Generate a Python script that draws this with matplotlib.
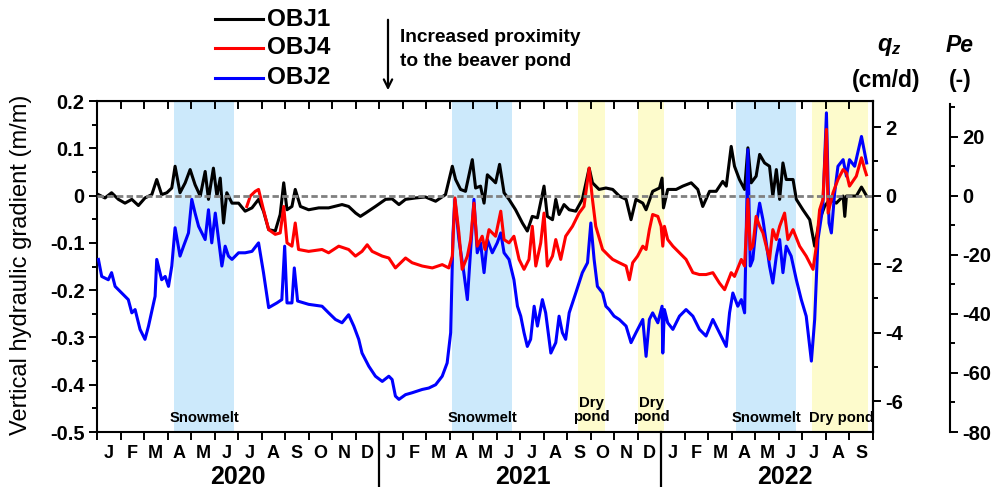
import matplotlib.pyplot as plt
import matplotlib.transforms as mtransforms
from matplotlib.lines import Line2D
from matplotlib.ticker import MultipleLocator, FixedLocator, FixedFormatter, NullFormatter, FuncFormatter
import numpy as np

plt.rcParams['font.family'] = ['Liberation Sans', 'DejaVu Sans']
plt.rcParams['font.weight'] = 'bold'
plt.rcParams['axes.unicode_minus'] = False
plt.rcParams['mathtext.fontset'] = 'custom'
plt.rcParams['mathtext.it'] = 'Liberation Sans:italic:bold'
plt.rcParams['mathtext.rm'] = 'Liberation Sans:bold'

# time = months since 1 Jan 2020, values = vertical hydraulic gradient (m/m)
obj1_t = [0.06, 0.34, 0.62, 0.91, 1.19, 1.48, 1.76, 2.04, 2.33, 2.54, 2.75, 2.97, 3.18, 3.32, 3.53, 3.75,
          3.96, 4.17, 4.39, 4.6, 4.74, 4.95, 5.1, 5.24, 5.38, 5.52, 5.74, 6.02, 6.3, 6.59, 6.87, 7.08,
          7.3, 7.58, 7.79, 7.94, 8.08, 8.29, 8.43, 8.65, 9.0, 9.43, 9.85, 10.42, 10.7, 11.0, 11.2, 11.42,
          11.84, 12.27, 12.55, 12.84, 13.12, 13.55, 13.97, 14.4, 14.82, 15.11, 15.25, 15.46, 15.67, 15.96,
          16.1, 16.31, 16.46, 16.6, 16.81, 16.95, 17.12, 17.31, 17.52, 17.8, 18.09, 18.3, 18.51, 18.73,
          19.01, 19.15, 19.37, 19.51, 19.65, 19.86, 20.08, 20.36, 20.64, 20.93, 21.07, 21.35, 21.64, 21.93,
          22.21, 22.5, 22.71, 22.92, 23.21, 23.35, 23.63, 23.92, 24.03, 24.09, 24.27, 24.63, 24.91, 25.27,
          25.55, 25.76, 26.05, 26.33, 26.61, 26.76, 26.97, 27.11, 27.32, 27.54, 27.68, 27.82, 28.03, 28.18,
          28.39, 28.6, 28.74, 28.89, 29.03, 29.17, 29.31, 29.6, 29.74, 30.02, 30.31, 30.52, 30.73, 30.94,
          31.16, 31.44, 31.73, 31.8, 31.87, 32.29, 32.51, 32.73]
obj1_v = [0.002, -0.005, 0.006, -0.008, -0.016, -0.008, -0.021, -0.005, 0.002, 0.034, 0.002, 0.006, 0.016, 0.062, 0.006, 0.027,
          0.055, 0.023, -0.001, 0.051, -0.008, 0.058, -0.001, 0.037, -0.058, 0.006, -0.016, -0.016, -0.033, -0.026, -0.008, -0.033,
          -0.072, -0.075, -0.04, 0.027, -0.03, -0.023, 0.013, -0.023, -0.03, -0.026, -0.026, -0.019, -0.023, -0.037, -0.044, -0.037,
          -0.023, -0.008, -0.007, -0.019, -0.008, -0.005, -0.003, -0.012, 0.002, 0.062, 0.034, 0.013, 0.009, 0.076,
          0.016, 0.02, -0.016, 0.044, 0.034, 0.027, 0.066, 0.006, -0.008, -0.03, -0.058, -0.075, -0.044, -0.047,
          0.02, -0.044, -0.051, -0.008, -0.04, -0.019, -0.03, -0.033, -0.008, 0.058, 0.027, 0.013, 0.016, 0.013,
          -0.001, -0.008, -0.051, -0.008, -0.016, -0.03, 0.009, 0.016, 0.037, -0.026, 0.013, 0.013, 0.02, 0.027,
          0.013, -0.023, 0.009, 0.009, 0.03, 0.02, 0.104, 0.062, 0.034, 0.013, 0.101, 0.027, 0.041, 0.087,
          0.069, 0.062, -0.001, 0.055, -0.008, 0.069, 0.034, 0.034, -0.008, -0.03, -0.051, -0.107, -0.051, -0.023,
          -0.008, -0.016, -0.001, -0.044, -0.001, -0.001, 0.018, -0.001]

obj4_t = [6.37, 6.52, 6.73, 6.87, 7.08, 7.3, 7.58, 7.79, 7.94, 8.08, 8.29, 8.43, 8.57, 9.0, 9.57, 9.85,
          10.28, 10.7, 10.99, 11.27, 11.49, 11.7, 12.13, 12.41, 12.69, 13.12, 13.4, 13.83, 14.26, 14.68, 14.96, 15.11,
          15.22, 15.39, 15.53, 15.75, 15.89, 16.03, 16.17, 16.38, 16.5, 16.67, 16.95, 17.17, 17.31, 17.52, 17.73, 17.95,
          18.16, 18.37, 18.51, 18.66, 18.87, 19.01, 19.15, 19.37, 19.51, 19.72, 19.93, 20.22, 20.5, 20.71, 20.93, 21.07,
          21.21, 21.5, 21.78, 21.93, 22.21, 22.5, 22.64, 22.78, 22.99, 23.21, 23.35, 23.49, 23.63, 23.85, 23.99, 24.06,
          24.13, 24.27, 24.49, 24.77, 25.05, 25.34, 25.62, 25.9, 26.19, 26.47, 26.69, 26.83, 26.97, 27.11, 27.4, 27.54,
          27.68, 27.78, 27.89, 28.03, 28.18, 28.32, 28.46, 28.6, 28.74, 28.89, 29.03, 29.24, 29.38, 29.6, 29.88, 30.16,
          30.45, 30.59, 30.73, 30.87, 31.02, 31.09, 31.3, 31.51, 31.73, 31.87, 32.0, 32.29, 32.51, 32.65, 32.72]
obj4_v = [-0.023, -0.001, 0.009, 0.013, -0.03, -0.072, -0.082, -0.079, -0.023, -0.1, -0.107, -0.058, -0.114, -0.118, -0.114, -0.121,
          -0.107, -0.114, -0.128, -0.118, -0.104, -0.118, -0.128, -0.132, -0.153, -0.132, -0.142, -0.149, -0.153, -0.146, -0.153, -0.128,
          -0.005, -0.079, -0.156, -0.128, -0.093, -0.016, -0.107, -0.086, -0.114, -0.072, -0.086, -0.033, -0.093, -0.1, -0.086, -0.135,
          -0.156, -0.135, -0.065, -0.149, -0.1, -0.037, -0.149, -0.128, -0.093, -0.135, -0.086, -0.065, -0.037, -0.023, 0.058, -0.008,
          -0.065, -0.114, -0.128, -0.135, -0.142, -0.149, -0.178, -0.142, -0.128, -0.107, -0.114, -0.072, -0.04, -0.044, -0.065, -0.107,
          -0.065, -0.093, -0.107, -0.121, -0.135, -0.163, -0.167, -0.167, -0.163, -0.185, -0.199, -0.181, -0.163, -0.171, -0.135, -0.149,
          -0.008, -0.114, -0.107, -0.044, -0.065, -0.079, -0.107, -0.135, -0.072, -0.093, -0.065, -0.037, -0.093, -0.072, -0.107, -0.128,
          -0.156, -0.107, -0.03, -0.008, 0.14, -0.037, 0.006, 0.034, 0.055, 0.048, 0.02, 0.041, 0.08, 0.055, 0.044]

obj2_t = [0.06, 0.2, 0.48, 0.62, 0.77, 1.05, 1.33, 1.48, 1.62, 1.83, 2.04, 2.19, 2.47, 2.54, 2.75, 2.9,
          3.04, 3.18, 3.32, 3.53, 3.68, 3.89, 4.03, 4.17, 4.32, 4.46, 4.6, 4.74, 4.88, 5.03, 5.17, 5.31,
          5.45, 5.59, 5.74, 6.02, 6.3, 6.59, 6.87, 7.08, 7.3, 7.65, 7.86, 7.98, 8.08, 8.29, 8.39, 8.53,
          9.0, 9.57, 9.85, 10.14, 10.42, 10.7, 10.92, 11.13, 11.27, 11.56, 11.84, 12.13, 12.41, 12.55, 12.69, 12.84,
          13.12, 13.4, 13.83, 14.11, 14.4, 14.68, 14.89, 15.04, 15.14, 15.22, 15.39, 15.6, 15.75, 15.89, 16.03, 16.17,
          16.31, 16.46, 16.6, 16.81, 17.02, 17.17, 17.31, 17.52, 17.73, 17.88, 18.02, 18.16, 18.3, 18.44, 18.59, 18.73,
          18.94, 19.08, 19.3, 19.51, 19.65, 19.79, 19.93, 20.08, 20.36, 20.64, 20.86, 21.0, 21.14, 21.28, 21.5, 21.64,
          21.78, 21.99, 22.21, 22.5, 22.71, 22.92, 23.21, 23.35, 23.49, 23.63, 23.85, 24.03, 24.06, 24.13, 24.27, 24.49,
          24.77, 25.05, 25.34, 25.62, 25.9, 26.19, 26.4, 26.61, 26.76, 26.9, 27.04, 27.25, 27.4, 27.54, 27.68, 27.78,
          27.89, 28.03, 28.18, 28.32, 28.46, 28.6, 28.74, 28.89, 29.03, 29.17, 29.31, 29.52, 29.74, 29.95, 30.16, 30.38,
          30.52, 30.66, 30.87, 31.02, 31.13, 31.23, 31.37, 31.51, 31.73, 31.87, 32.0, 32.22, 32.51, 32.73]
obj2_v = [-0.135, -0.171, -0.178, -0.163, -0.192, -0.206, -0.22, -0.248, -0.241, -0.283, -0.304, -0.276, -0.213, -0.135, -0.178, -0.171,
          -0.192, -0.149, -0.068, -0.128, -0.107, -0.079, -0.008, -0.037, -0.065, -0.079, -0.093, -0.03, -0.1, -0.037, -0.093, -0.149,
          -0.107, -0.128, -0.135, -0.121, -0.121, -0.118, -0.1, -0.163, -0.237, -0.227, -0.22, -0.107, -0.227, -0.227, -0.153, -0.223,
          -0.23, -0.234, -0.248, -0.262, -0.269, -0.252, -0.276, -0.304, -0.333, -0.361, -0.382, -0.393, -0.382, -0.389, -0.424, -0.431,
          -0.421, -0.417, -0.41, -0.407, -0.4, -0.382, -0.354, -0.29, -0.079, -0.008, -0.093, -0.163, -0.22, -0.114, -0.008, -0.121,
          -0.1, -0.163, -0.093, -0.121, -0.1, -0.079, -0.121, -0.135, -0.178, -0.234, -0.255, -0.29, -0.319, -0.304, -0.234, -0.276,
          -0.22, -0.248, -0.333, -0.311, -0.255, -0.29, -0.304, -0.248, -0.206, -0.163, -0.142, -0.058, -0.135, -0.192, -0.206, -0.234,
          -0.241, -0.255, -0.262, -0.276, -0.311, -0.29, -0.262, -0.34, -0.262, -0.248, -0.269, -0.234, -0.333, -0.241, -0.269, -0.283,
          -0.255, -0.241, -0.255, -0.283, -0.297, -0.262, -0.283, -0.304, -0.319, -0.248, -0.206, -0.234, -0.22, -0.248, 0.097, -0.149,
          -0.135, -0.065, -0.016, -0.051, -0.1, -0.149, -0.185, -0.128, -0.093, -0.163, -0.107, -0.128, -0.178, -0.22, -0.255, -0.35,
          -0.262, -0.093, -0.023, 0.175, -0.058, -0.079, 0.006, 0.062, 0.076, 0.041, 0.076, 0.062, 0.125, 0.069]

# shaded periods (start, end) in months since 1 Jan 2020
snowmelt = [(3.28, 5.84), (15.1, 17.66), (27.19, 29.74)]
dry_pond = [(20.46, 21.6), (23.0, 24.13), (30.42, 32.79)]

month_labels = list('JFMAMJJASOND') * 2 + list('JFMAMJJAS')
year_labels = ['2020', '2021', '2022']
year_centers = [6.0, 18.1, 29.25]
series_names = ['OBJ1', 'OBJ4', 'OBJ2']

qz_per_grad = 13.8   # cm/d per m/m
pe_per_grad = 160.5


def fx(px):
    return px / 996


def fy(py):
    return 1 - py / 487


fig = plt.figure(figsize=(9.96, 4.87), dpi=100)
ax = fig.add_axes([0.0974, 0.1129, 0.7791, 0.6797])
trans = mtransforms.blended_transform_factory(ax.transData, ax.transAxes)

for a, b in snowmelt:
    ax.axvspan(a, b, color='#cce9fb', lw=0, zorder=0)
    ax.text((a + b) / 2, 0.042, 'Snowmelt', transform=trans, ha='center', va='center', fontsize=10.6)
for i, (a, b) in enumerate(dry_pond):
    ax.axvspan(a, b, color='#fdfbcc', lw=0, zorder=0)
    if i < 2:
        ax.text((a + b) / 2, 0.068, 'Dry\npond', transform=trans, ha='center', va='center',
                fontsize=10.8, linespacing=1.0)
    else:
        ax.text((a + b) / 2 + 0.05, 0.042, 'Dry pond', transform=trans, ha='center', va='center', fontsize=10.6)

l1, = ax.plot(obj1_t, obj1_v, color='black', lw=2.2, zorder=3)
l2, = ax.plot(obj2_t, obj2_v, color='#0000ff', lw=2.2, zorder=3.5)
l4, = ax.plot(obj4_t, obj4_v, color='#ff0000', lw=2.2, zorder=4)
ax.axhline(0, color='#808080', ls=(0, (2.3, 1.2)), lw=2.0, zorder=6)

# x axis: months
ax.set_xlim(0, 33)
ax.xaxis.set_major_locator(MultipleLocator(1))
ax.xaxis.set_major_formatter(NullFormatter())
ax.xaxis.set_minor_locator(FixedLocator(np.arange(33) + 0.5))
ax.xaxis.set_minor_formatter(FixedFormatter(month_labels))
ax.tick_params(axis='x', which='major', direction='out', length=6, width=1.4)
ax.tick_params(axis='x', which='minor', length=0, pad=9, labelsize=13)

top = ax.secondary_xaxis('top')
top.xaxis.set_major_locator(MultipleLocator(1))
top.tick_params(direction='in', length=6, width=1.4, labeltop=False)

for m in [12, 24]:
    ax.plot([m, m], [0, -0.17], transform=trans, color='black', lw=1.6, clip_on=False)
for lab, c in zip(year_labels, year_centers):
    ax.text(c, -0.135, lab, transform=trans, ha='center', va='center', fontsize=18)

# left axis
ax.set_ylim(-0.5, 0.2)
ax.yaxis.set_major_locator(MultipleLocator(0.1))
ax.yaxis.set_minor_locator(MultipleLocator(0.05))
ax.yaxis.set_major_formatter(FuncFormatter(lambda v, p: '0' if abs(v) < 1e-9 else f'{v:.1f}'))
ax.tick_params(axis='y', which='major', direction='out', length=6, width=1.4, labelsize=14.5, pad=3)
ax.tick_params(axis='y', which='minor', direction='out', length=3.5, width=1.4)
for s in ax.spines.values():
    s.set_linewidth(1.5)

# q_z axis
ax2 = ax.twinx()
lo, hi = ax.get_ylim()
ax2.set_ylim(lo * qz_per_grad, hi * qz_per_grad)
ax2.yaxis.set_major_locator(MultipleLocator(2))
ax2.yaxis.set_minor_locator(MultipleLocator(1))
ax2.yaxis.set_major_formatter(FuncFormatter(lambda v, p: f'{v:.0f}'))
ax2.tick_params(axis='y', which='major', direction='out', length=6, width=1.4, labelsize=14.5, pad=3)
ax2.tick_params(axis='y', which='minor', direction='out', length=3.5, width=1.4)
for s in ['left', 'top', 'bottom']:
    ax2.spines[s].set_visible(False)
ax2.spines['right'].set_linewidth(1.5)

# Pe axis
ax3 = ax.twinx()
ax3.set_ylim(-80, hi * pe_per_grad)
ax3.spines['right'].set_position(('axes', 1.0992))
ax3.spines['right'].set_bounds(-80, 31)
ax3.yaxis.set_major_locator(MultipleLocator(20))
ax3.yaxis.set_minor_locator(MultipleLocator(10))
ax3.yaxis.set_major_formatter(FuncFormatter(lambda v, p: f'{v:.0f}'))
ax3.tick_params(axis='y', which='major', direction='out', length=6, width=1.4, labelsize=14.5, pad=3)
ax3.tick_params(axis='y', which='minor', direction='out', length=3.5, width=1.4)
for s in ['left', 'top', 'bottom']:
    ax3.spines[s].set_visible(False)
ax3.spines['right'].set_linewidth(1.5)

# labels around the plot
fig.text(fx(21), fy(265), 'Vertical hydraulic gradient (m/m)', rotation=90, ha='center', va='center',
         fontsize=17, fontweight='normal')
fig.text(fx(889), fy(46), r'$q_z$', ha='center', va='center', fontsize=17)
fig.text(fx(886), fy(80), '(cm/d)', ha='center', va='center', fontsize=16.5)
fig.text(fx(960), fy(45), 'Pe', ha='center', va='center', fontsize=16.5, style='italic')
fig.text(fx(960), fy(80), '(-)', ha='center', va='center', fontsize=16.5)

# legend (drawn by hand to sit above the axes)
for line, name, y in zip([l1, l4, l2], series_names, [19, 48, 78]):
    fig.add_artist(Line2D([fx(215), fx(263)], [fy(y), fy(y)], color=line.get_color(), lw=2.2))
    fig.text(fx(267), fy(y), name, ha='left', va='center', fontsize=17.5)

ax.annotate('', xy=(fx(388), fy(93)), xytext=(fx(388), fy(17)), xycoords='figure fraction',
            textcoords='figure fraction', arrowprops=dict(arrowstyle='->', lw=1.6, color='black', mutation_scale=15))
fig.text(fx(400), fy(38), 'Increased proximity', ha='left', va='center', fontsize=13.8)
fig.text(fx(400), fy(62), 'to the beaver pond', ha='left', va='center', fontsize=13.8)

fig.savefig('out.png', dpi=100)
